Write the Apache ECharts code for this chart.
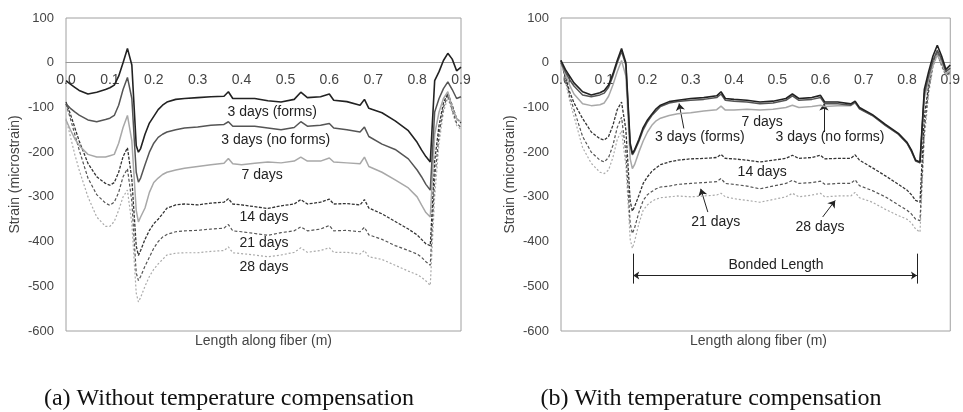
<!DOCTYPE html>
<html>
<head>
<meta charset="utf-8">
<script src="https://cdn.jsdelivr.net/npm/echarts@6/dist/echarts.min.js"></script>
<style>
  html, body { margin: 0; padding: 0; background: #fff; }
  #chart { width: 963px; height: 412px; }
</style>
</head>
<body>
<div id="chart"></div>
<script>
// position along the fiber (m), shared by every curve
const lengthM = [
  0, 0.01, 0.02, 0.03, 0.05, 0.07, 0.09, 0.10, 0.11, 0.12,
  0.13, 0.14, 0.15, 0.16, 0.165, 0.17, 0.18, 0.19, 0.20, 0.21,
  0.22, 0.23, 0.25, 0.27, 0.30, 0.33, 0.36, 0.37, 0.38, 0.40,
  0.43, 0.46, 0.49, 0.52, 0.535, 0.55, 0.58, 0.60, 0.61, 0.64,
  0.67, 0.68, 0.69, 0.72, 0.75, 0.78, 0.80, 0.81, 0.82, 0.83,
  0.834, 0.84, 0.85, 0.86, 0.87, 0.88, 0.89, 0.90
];

// (a) without temperature compensation, microstrain
const aForms = [
  -40, -48, -55, -62, -70, -66, -60, -56, -50, -30,
  0, 32, -5, -185, -200, -192, -160, -135, -120, -105,
  -95, -88, -82, -80, -78, -76, -75, -65, -80, -80,
  -80, -85, -88, -82, -66, -78, -76, -70, -84, -87,
  -95, -82, -102, -112, -130, -152, -178, -195, -210, -222,
  -222, -40, -20, 5, 21, 8, -18, -10
];
const aNoForms = [
  -92, -102, -110, -117, -128, -132, -127, -124, -118, -95,
  -60, -33, -80, -245, -267, -258, -228, -200, -180, -167,
  -160, -155, -150, -146, -144, -140, -138, -132, -142, -142,
  -142, -146, -150, -145, -132, -142, -140, -136, -146, -150,
  -155, -144, -165, -182, -194, -215, -240, -255, -272, -285,
  -285, -110, -80, -58, -43, -60, -80, -76
];
const a7 = [
  -128, -150, -170, -185, -205, -211, -211, -208, -205, -180,
  -145, -118, -175, -330, -356, -345, -325, -290, -268, -258,
  -250, -245, -240, -236, -232, -228, -225, -214, -226, -228,
  -225, -222, -224, -220, -211, -220, -220, -213, -222, -224,
  -226, -211, -232, -245, -262, -280, -300, -318, -335, -345,
  -345, -160, -110, -80, -65, -100, -125, -132
];
const a14 = [
  -88, -115, -145, -175, -225, -255, -270, -274, -268, -245,
  -210, -190, -260, -410, -431, -420, -395, -375, -360, -350,
  -338, -325, -318, -316, -318, -314, -312, -304, -316, -318,
  -322, -326, -320, -316, -306, -316, -312, -305, -316, -315,
  -318, -306, -325, -338, -355, -372, -385, -395, -405, -409,
  -409, -220, -140, -90, -68, -95, -125, -135
];
const a21 = [
  -92, -125, -160, -195, -258, -295, -314, -319, -312, -290,
  -255, -237, -310, -470, -487, -478, -455, -435, -415, -400,
  -390, -384, -378, -376, -375, -372, -370, -362, -376, -378,
  -382, -386, -380, -376, -367, -376, -372, -364, -376, -375,
  -378, -368, -385, -395, -409, -420, -428, -435, -445, -453,
  -453, -260, -160, -100, -72, -105, -135, -145
];
const a28 = [
  -125, -165, -205, -240, -300, -345, -366, -366, -355, -330,
  -300, -285, -360, -515, -535, -525, -500, -478, -462, -450,
  -440, -430, -426, -425, -425, -422, -420, -412, -425, -427,
  -430, -434, -430, -424, -414, -424, -420, -414, -424, -424,
  -428, -420, -434, -440, -453, -466, -474, -480, -488, -498,
  -498, -300, -180, -110, -78, -110, -140, -150
];

// (b) with temperature compensation, microstrain
const bForms = [
  5, -15, -30, -45, -65, -72, -67, -62, -50, -25,
  5, 32, 0, -180, -203, -195, -172, -145, -128, -115,
  -103, -95, -87, -84, -80, -78, -74, -65, -80, -82,
  -84, -88, -86, -80, -70, -80, -78, -73, -88, -88,
  -92, -86, -100, -116, -138, -158, -178, -195, -218, -222,
  -222, -60, -20, 15, 39, 15, -15, -5
];
const bNoForms = [
  0, -20, -38, -52, -72, -76, -72, -68, -55, -30,
  0, 25, -5, -185, -206, -198, -176, -150, -132, -118,
  -108, -98, -90, -87, -84, -82, -78, -70, -84, -86,
  -88, -92, -90, -84, -74, -84, -82, -78, -92, -92,
  -95, -88, -103, -118, -140, -160, -180, -198, -220, -224,
  -224, -70, -30, 5, 28, 8, -20, -12
];
const b7 = [
  0, -25, -50, -70, -92, -96, -94, -90, -75, -50,
  -20, 5, -30, -215, -237, -228, -200, -175, -155, -140,
  -130, -124, -118, -114, -112, -108, -105, -97, -106, -106,
  -104, -106, -104, -100, -95, -100, -98, -95, -98, -96,
  -96, -90, -102, -118, -140, -160, -180, -198, -218, -224,
  -224, -80, -40, -5, 18, 0, -25, -18
];
const b14 = [
  5, -30, -65, -90, -125, -155, -170, -173, -165, -140,
  -105, -88, -150, -310, -332, -322, -297, -270, -255, -243,
  -235, -228, -222, -218, -215, -214, -212, -205, -214, -215,
  -218, -222, -218, -214, -207, -214, -212, -207, -215, -214,
  -214, -206, -218, -235, -253, -272, -285, -295, -308, -312,
  -312, -120, -50, 0, 22, 0, -25, -20
];
const b21 = [
  5, -35, -75, -105, -165, -200, -218, -222, -212, -185,
  -145, -122, -200, -360, -382, -370, -335, -308, -295, -288,
  -282, -278, -276, -272, -270, -268, -266, -259, -270, -272,
  -276, -282, -276, -270, -263, -270, -268, -265, -272, -270,
  -270, -262, -275, -286, -300, -318, -330, -338, -350, -353,
  -353, -150, -60, -5, 20, -5, -28, -22
];
const b28 = [
  5, -40, -85, -120, -190, -225, -245, -248, -240, -212,
  -172, -152, -230, -395, -415, -400, -360, -330, -318, -310,
  -305, -302, -300, -298, -300, -298, -296, -292, -300, -304,
  -308, -312, -306, -300, -292, -300, -296, -292, -300, -298,
  -298, -290, -302, -312, -328, -342, -350, -358, -372, -379,
  -379, -170, -70, -10, 18, -8, -30, -25
];

// curve labels [text, length, strain]
const labelsA = [
  ['3 days (forms)', 0.47, -111],
  ['3 days (no forms)', 0.478, -174],
  ['7 days', 0.447, -252],
  ['14 days', 0.451, -346],
  ['21 days', 0.451, -404],
  ['28 days', 0.451, -458]
];
const labelsB = [
  ['7 days', 0.465, -133],
  ['3 days (forms)', 0.321, -167],
  ['3 days (no forms)', 0.622, -167],
  ['14 days', 0.465, -244],
  ['21 days', 0.358, -356],
  ['28 days', 0.599, -368],
  ['Bonded Length', 0.497, -453]
];
// leader arrows in (b): [x1, y1, x2 (tip), y2]
const arrowsB = [
  [0.284, -147, 0.273, -91],
  [0.608, -155, 0.608, -91],
  [0.3395, -334, 0.323, -282],
  [0.605, -345, 0.634, -308]
];
const bondedFrom = 0.167, bondedTo = 0.823, bondedLevel = -476;
const bondedTick = [-427, -494];

const chart = echarts.init(document.getElementById('chart'));

const yMin = -600, yMax = 100;
const gridH = 313;
// x axis sits on the zero strain line, labels included
const zeroOffset = -gridH * (0 - yMin) / (yMax - yMin);

const styles = [
  { name: '28 days', color: '#aaa', width: 1.2, type: [2, 2] },
  { name: '21 days', color: '#555', width: 1.2, type: [3, 2] },
  { name: '14 days', color: '#333', width: 1.3, type: [3, 1.5] },
  { name: '7 days', color: '#a8a8a8', width: 1.5, type: 'solid' },
  { name: '3 days (no forms)', color: '#555', width: 1.5, type: 'solid' },
  { name: '3 days (forms)', color: '#222', width: 1.6, type: 'solid' }
];
const dataA = { '28 days': a28, '21 days': a21, '14 days': a14, '7 days': a7, '3 days (no forms)': aNoForms, '3 days (forms)': aForms };
const dataB = { '28 days': b28, '21 days': b21, '14 days': b14, '7 days': b7, '3 days (no forms)': bNoForms, '3 days (forms)': bForms };

function lineSeries(g, table) {
  return styles.map(s => ({
    name: s.name,
    type: 'line',
    xAxisIndex: g,
    yAxisIndex: g,
    symbol: 'none',
    data: lengthM.map((x, i) => [x, table[s.name][i]]),
    lineStyle: { color: s.color, width: s.width, type: s.type },
    silent: true
  }));
}

const xAxes = [0, 1].map(g => ({
  gridIndex: g, type: 'value', min: 0, max: 0.9, interval: 0.1,
  position: 'bottom', offset: zeroOffset,
  axisLine: { onZero: false, lineStyle: { color: '#999', width: 1 } },
  axisTick: { show: false },
  splitLine: { show: false },
  axisLabel: { color: '#444', fontSize: 14, margin: 10, fontFamily: 'Liberation Sans',
    showMinLabel: true, showMaxLabel: true, formatter: v => v.toFixed(1) }
}));
const yAxes = [0, 1].map(g => ({
  gridIndex: g, type: 'value', min: yMin, max: yMax, interval: 100,
  axisLine: { show: false },
  axisTick: { show: false },
  splitLine: { show: false },
  axisLabel: { color: '#444', fontSize: 13, margin: 12, fontFamily: 'Liberation Sans' },
  name: 'Strain (microstrain)', nameLocation: 'middle', nameGap: 44,
  nameTextStyle: { color: '#444', fontSize: 14, fontFamily: 'Liberation Sans' }
}));

const arrowLine = { color: '#222', width: 1, opacity: 1 };

chart.setOption({
  animation: false,
  grid: [
    { left: 66, top: 18, width: 395, height: gridH, show: true, borderColor: '#a0a0a0', borderWidth: 1 },
    { left: 561, top: 18, width: 395, height: gridH, show: true, borderColor: '#a0a0a0', borderWidth: 1 }
  ],
  xAxis: xAxes,
  yAxis: yAxes,
  series: [
    ...lineSeries(0, dataA),
    ...lineSeries(1, dataB),
    {
      type: 'lines', coordinateSystem: 'cartesian2d', xAxisIndex: 1, yAxisIndex: 1,
      symbol: ['none', 'arrow'], symbolSize: 7, lineStyle: arrowLine, silent: true,
      data: arrowsB.map(a => ({ coords: [[a[0], a[1]], [a[2], a[3]]] }))
    },
    {
      type: 'lines', coordinateSystem: 'cartesian2d', xAxisIndex: 1, yAxisIndex: 1,
      symbol: ['arrow', 'arrow'], symbolSize: 6, lineStyle: arrowLine, silent: true,
      data: [{ coords: [[bondedFrom, bondedLevel], [bondedTo, bondedLevel]] }]
    },
    {
      type: 'lines', coordinateSystem: 'cartesian2d', xAxisIndex: 1, yAxisIndex: 1,
      symbol: 'none', lineStyle: arrowLine, silent: true,
      data: [bondedFrom, bondedTo].map(x => ({ coords: [[x, bondedTick[0]], [x, bondedTick[1]]] }))
    }
  ]
});

function txt(text, x, y, font, fill) {
  return {
    type: 'text', x: x, y: y, z: 100, silent: true,
    style: { text: text, font: font, fill: fill, align: 'center', verticalAlign: 'middle',
      textAlign: 'center', textVerticalAlign: 'middle' }
  };
}
const labelFont = '14px "Liberation Sans"';
const graphics = [];
labelsA.forEach(l => {
  const p = chart.convertToPixel({ gridIndex: 0 }, [l[1], l[2]]);
  graphics.push(txt(l[0], p[0], p[1], labelFont, '#222'));
});
labelsB.forEach(l => {
  const p = chart.convertToPixel({ gridIndex: 1 }, [l[1], l[2]]);
  graphics.push(txt(l[0], p[0], p[1], labelFont, '#222'));
});
graphics.push(txt('Length along fiber (m)', 263.5, 341, labelFont, '#444'));
graphics.push(txt('Length along fiber (m)', 758.5, 341, labelFont, '#444'));
graphics.push(txt('(a) Without temperature compensation', 229, 399, '24px "Liberation Serif"', '#111'));
graphics.push(txt('(b) With temperature compensation', 711, 399, '24px "Liberation Serif"', '#111'));
chart.setOption({ graphic: graphics });
</script>
</body>
</html>
